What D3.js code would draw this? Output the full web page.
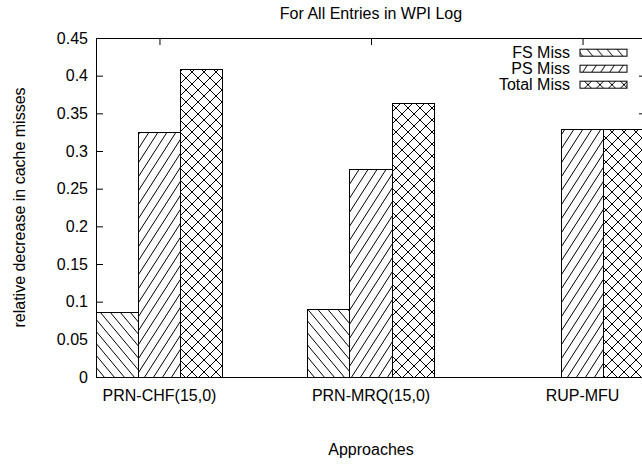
<!DOCTYPE html>
<html>
<head>
<meta charset="utf-8">
<script src="https://cdn.jsdelivr.net/npm/d3@7"></script>
<style>
  body { margin: 0; background: #fff; }
  svg { display: block; font-family: "Liberation Sans", Arial, sans-serif; }
  text { fill: #000; font-size: 16px; }
</style>
</head>
<body>
<svg id="chart"></svg>
<script>
const title = "For All Entries in WPI Log";
const xTitle = "Approaches";
const yTitle = "relative decrease in cache misses";

const approaches = ["PRN-CHF(15,0)", "PRN-MRQ(15,0)", "RUP-MFU"];
const seriesNames = ["FS Miss", "PS Miss", "Total Miss"];
const fsMiss = [0.085, 0.089, 0];
const psMiss = [0.324, 0.276, 0.328];
const totalMiss = [0.408, 0.363, 0.328];
const yTicks = [0, 0.05, 0.1, 0.15, 0.2, 0.25, 0.3, 0.35, 0.4, 0.45];
const yTickLabels = ["0", "0.05", "0.1", "0.15", "0.2", "0.25", "0.3", "0.35", "0.4", "0.45"];

const width = 642;
const height = 464;
const margin = { top: 38, left: 96, right: 646, bottom: 377 };
const barWidth = 0.2; // in group units: 3 bars + 2 gap slots per group
const tick = 7;

const svg = d3.select("#chart")
    .attr("width", width)
    .attr("height", height);

// scales
const x = d3.scaleLinear()
    .domain([-0.3, 2.3])
    .range([margin.left, margin.right]);

const y = d3.scaleLinear()
    .domain([0, 0.45])
    .range([margin.bottom, margin.top]);

// hatch patterns
const defs = svg.append("defs");

function hatch(id, w, h, paths) {
  const p = defs.append("pattern")
      .attr("id", id)
      .attr("patternUnits", "userSpaceOnUse")
      .attr("width", w)
      .attr("height", h);
  p.append("rect").attr("width", w).attr("height", h).attr("fill", "#fff");
  paths.forEach(d => {
    p.append("path")
        .attr("d", d)
        .attr("stroke", "#000")
        .attr("stroke-width", 1)
        .attr("fill", "none");
  });
}

hatch("fs", 10, 12, ["M-1,-1.2 L11,13.2", "M-11,-1.2 L1,13.2", "M9,-1.2 L21,13.2"]);
hatch("ps", 9, 14, ["M-1,15.6 L10,-1.6", "M-10,15.6 L1,-1.6", "M8,15.6 L19,-1.6"]);
hatch("tot", 12, 12, ["M-1,-1 L13,13", "M-1,13 L13,-1", "M-13,-1 L1,13", "M11,13 L25,-1",
                      "M11,-1 L25,13", "M-13,13 L1,-1"]);
const fills = ["url(#fs)", "url(#ps)", "url(#tot)"];

// ticks (drawn under the bars)
svg.append("g")
    .attr("transform", `translate(${margin.left},0)`)
    .call(d3.axisLeft(y)
      .tickValues(yTicks)
      .tickSize(-tick)
      .tickPadding(8)
      .tickFormat((d, i) => yTickLabels[i]))
    .call(g => g.select(".domain").remove())
    .call(g => g.selectAll("text")
      .attr("font-family", null)
      .attr("font-size", null))
    .call(g => g.selectAll("line").attr("stroke", "#000"));

svg.append("g")
    .attr("transform", `translate(${margin.right},0)`)
    .call(d3.axisRight(y)
      .tickValues(yTicks)
      .tickSize(-tick)
      .tickFormat(""))
    .call(g => g.select(".domain").remove());

svg.append("g")
    .attr("transform", `translate(0,${margin.top})`)
    .call(d3.axisTop(x)
      .tickValues(d3.range(approaches.length))
      .tickSize(-tick)
      .tickFormat(""))
    .call(g => g.select(".domain").remove());

// bars
const series = [fsMiss, psMiss, totalMiss];
const bars = svg.append("g").attr("id", "bars");

series.forEach((values, j) => {
  bars.selectAll(".bar-" + j)
    .data(values)
    .enter()
    .append("rect")
      .attr("class", "bar-" + j)
      .attr("x", (d, i) => x(i + (j - 1.5) * barWidth))
      .attr("y", d => y(d))
      .attr("width", x(barWidth) - x(0))
      .attr("height", d => y(0) - y(d))
      .attr("fill", fills[j])
      .attr("stroke", "#000")
      .attr("stroke-width", 1)
      .attr("shape-rendering", "crispEdges");
});

// border
svg.append("rect")
    .attr("x", margin.left)
    .attr("y", margin.top)
    .attr("width", margin.right - margin.left)
    .attr("height", margin.bottom - margin.top)
    .attr("fill", "none")
    .attr("stroke", "#000")
    .attr("stroke-width", 1)
    .attr("shape-rendering", "crispEdges");

// category labels
svg.append("g")
  .selectAll("text")
  .data(approaches)
  .enter()
  .append("text")
    .attr("x", (d, i) => x(i))
    .attr("y", 401)
    .attr("text-anchor", "middle")
    .text(d => d);

// titles
svg.append("text")
    .attr("x", x(1))
    .attr("y", 19)
    .attr("text-anchor", "middle")
    .text(title);

svg.append("text")
    .attr("x", x(1))
    .attr("y", 455)
    .attr("text-anchor", "middle")
    .text(xTitle);

svg.append("text")
    .attr("transform", `translate(25,${(margin.top + margin.bottom) / 2}) rotate(-90)`)
    .attr("text-anchor", "middle")
    .text(yTitle);

// legend
const legend = svg.append("g").attr("id", "legend");
const rows = legend.selectAll("g")
  .data(seriesNames)
  .enter()
  .append("g")
    .attr("transform", (d, i) => `translate(0,${52.7 + i * 16})`);

rows.append("text")
    .attr("x", 570)
    .attr("y", 5.5)
    .attr("text-anchor", "end")
    .text(d => d);

rows.append("rect")
    .attr("x", 580)
    .attr("y", -3.5)
    .attr("width", 47)
    .attr("height", 7)
    .attr("fill", (d, i) => fills[i])
    .attr("stroke", "#000")
    .attr("stroke-width", 1);
</script>
</body>
</html>
